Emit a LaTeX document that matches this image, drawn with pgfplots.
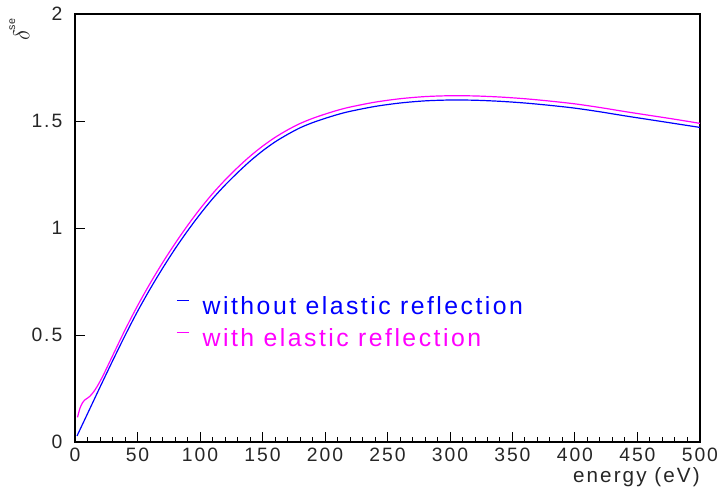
\documentclass[border=0pt]{standalone}
\usepackage{fontspec}
\setmainfont{Liberation Sans}
\newfontfamily\legfont{Liberation Sans}[LetterSpace=10]
\usepackage{pgfplots}
\pgfplotsset{compat=1.18}
\definecolor{rblue}{rgb}{0,0,1}
\definecolor{rmag}{rgb}{1,0,1}
\begin{document}
\begin{tikzpicture}
\begin{axis}[
  scale only axis,
  width=468.75pt, height=321pt,
  xmin=0, xmax=500, ymin=0, ymax=2,
  clip=false,
  axis line style={line width=0.9pt},
  xtick={0,50,...,500},
  ytick={0,0.5,1,1.5,2},
  yticklabels={0,0.5,1,1.5,2},
  minor x tick num=4,
  tick align=inside,
  xtick pos=bottom, ytick pos=left,
  major tick length=7.5pt, minor tick length=4pt,
  every tick/.style={black, line width=0.7pt},
  /pgf/number format/assume math mode=true,
  ticklabel style={font=\fontsize{14.5}{16}\selectfont\legfont, text=black!85},
  xticklabel style={yshift=-1pt, inner xsep=0pt},
  yticklabel style={xshift=-6pt},
  xlabel={energy (eV)},
  xlabel style={at={(rel axis cs:1.0,-0.082)}, anchor=east, inner sep=0pt, font=\fontsize{15.5}{17}\selectfont\legfont, text=black!85},
  ylabel={$\delta$\raisebox{0.6em}{\fontsize{8}{9}\selectfont se}},
  ylabel style={at={(rel axis cs:-0.089,0.963)}, anchor=center, font=\fontsize{18}{20}\selectfont, text=black!85},
  legend style={draw=none, fill=none, at={(rel axis cs:0.155,0.354)}, anchor=north west,
    font=\fontsize{18.6}{21}\selectfont\legfont, row sep=5pt, legend cell align=left},
  legend image code/.code={\draw[#1, line width=1pt] (0pt,4pt) -- (9pt,4pt); \path (17pt,4pt);},
]
\addplot[rblue, line width=0.9pt, smooth] coordinates {
(1.6,0.028) (10,0.132) (20,0.256) (30,0.378) (40,0.497) (50,0.610)
(60,0.714) (70,0.811) (80,0.902) (90,0.986) (100,1.064) (110,1.136) (120,1.200)
(130,1.258) (140,1.312) (150,1.360) (160,1.402) (170,1.437) (180,1.468)
(190,1.492) (200,1.512) (210,1.530) (220,1.545) (240,1.568) (260,1.584)
(280,1.594) (300,1.598) (320,1.597) (340,1.592) (360,1.584) (380,1.573)
(400,1.560) (420,1.543) (440,1.524) (460,1.506) (480,1.488) (500,1.470)};
\addlegendentry{\textcolor{rblue}{without elastic reflection}}
\addplot[rmag, line width=0.9pt, smooth] coordinates {
(2,0.115) (4,0.158) (6,0.183) (8,0.197) (10,0.205) (12,0.214) (15,0.235)
(18,0.262) (22,0.305) (26,0.353) (30,0.402) (40,0.523) (50,0.636)
(60,0.740) (70,0.837) (80,0.927) (90,1.011) (100,1.089) (110,1.160) (120,1.224)
(130,1.282) (140,1.335) (150,1.382) (160,1.423) (170,1.458) (180,1.488)
(190,1.512) (200,1.532) (210,1.550) (220,1.565) (240,1.588) (260,1.604)
(280,1.614) (300,1.618) (320,1.617) (340,1.612) (360,1.604) (380,1.593)
(400,1.580) (420,1.563) (440,1.544) (460,1.526) (480,1.508) (500,1.489)};
\addlegendentry{\textcolor{rmag}{with elastic reflection}}
\path (rel axis cs:0,0) ++(-56.25pt,-36pt) rectangle ([shift={(13.5pt,10.5pt)}]rel axis cs:1,1);
\end{axis}
\end{tikzpicture}
\end{document}
